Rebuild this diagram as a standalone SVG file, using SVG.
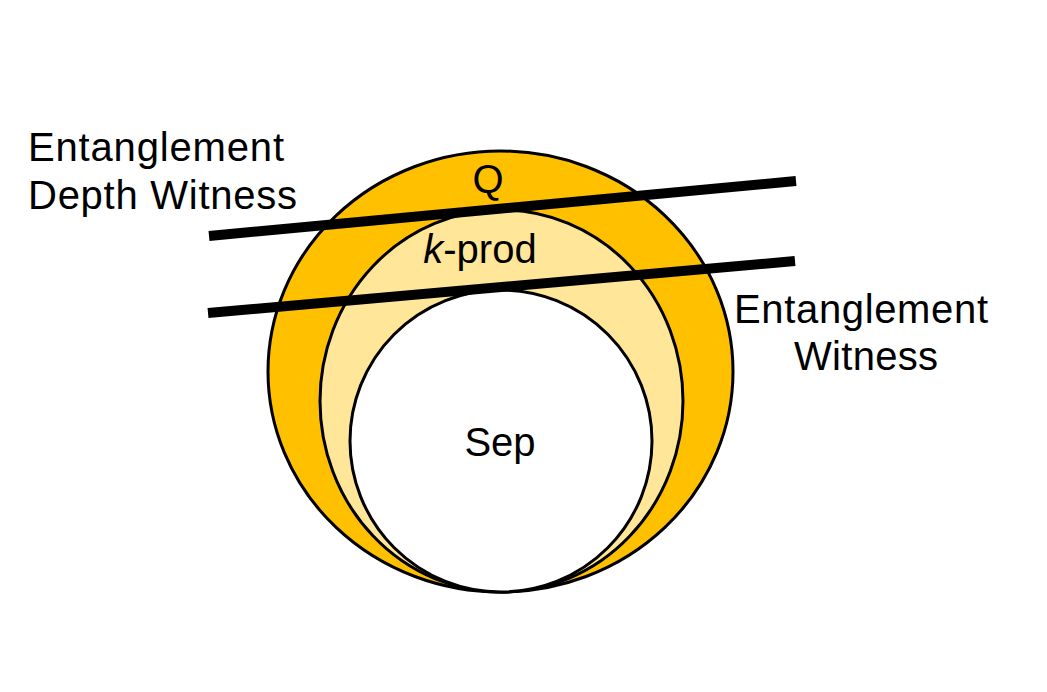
<svg xmlns="http://www.w3.org/2000/svg" width="1047" height="692" viewBox="0 0 1047 692">
<style>
.set{stroke:#000;stroke-width:3}
.lbl{font-family:"Liberation Sans",Arial,sans-serif;font-size:40px;fill:#000}
.wit{stroke:#000;stroke-width:10;stroke-linecap:butt;fill:none}
</style>
<rect width="1047" height="692" fill="#fff"/>
<g id="Q">
<ellipse class="set" cx="500.5" cy="371.5" rx="232.5" ry="220.5" fill="#FFC000"/>
<text class="lbl" x="488" y="193" text-anchor="middle">Q</text>
</g>
<g id="kprod">
<ellipse class="set" cx="501.5" cy="401" rx="181.5" ry="191" fill="#FFE699"/>
</g>
<g id="Sep">
<circle class="set" cx="501" cy="441" r="151" fill="#fff"/>
<text class="lbl" x="500" y="456" text-anchor="middle">Sep</text>
</g>
<g id="connectors">
<line class="wit" x1="209" y1="236" x2="796" y2="181"/>
<line class="wit" x1="208" y1="313" x2="795" y2="261"/>
</g>
<g id="kprod-label">
<text class="lbl" x="480" y="263" text-anchor="middle"><tspan font-style="italic">k</tspan>-prod</text>
</g>
<g id="depth-witness">
<text class="lbl" x="28" y="161" textLength="256">Entanglement</text>
<text class="lbl" x="28" y="209" textLength="269">Depth Witness</text>
</g>
<g id="entanglement-witness">
<text class="lbl" x="734" y="323" textLength="254">Entanglement</text>
<text class="lbl" x="794" y="370" textLength="144">Witness</text>
</g>
</svg>
